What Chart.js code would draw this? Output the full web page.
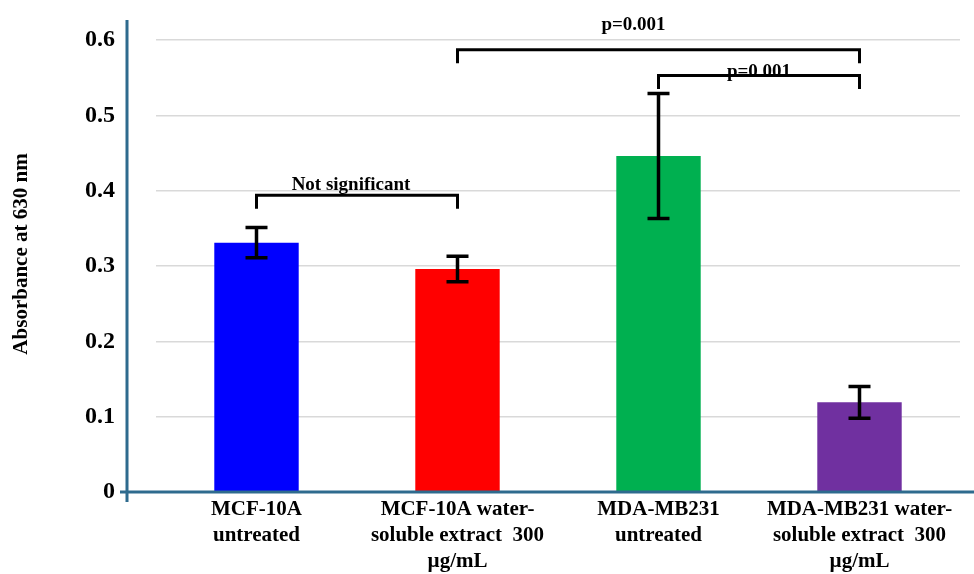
<!DOCTYPE html>
<html>
<head>
<meta charset="utf-8">
<script src="https://cdn.jsdelivr.net/npm/chart.js@4/dist/chart.umd.min.js"></script>
<style>
  html, body { margin: 0; padding: 0; background: #fff; }
  #wrap { width: 974px; height: 574px; position: relative; }
</style>
</head>
<body>
<div id="wrap"><canvas id="chart"></canvas></div>
<script>
// Absorbance bar chart with SD error bars and significance brackets

const categories = [
  ['MCF-10A', 'untreated'],
  ['MCF-10A water-', 'soluble extract  300', 'µg/mL'],
  ['MDA-MB231', 'untreated'],
  ['MDA-MB231 water-', 'soluble extract  300', 'µg/mL']
];
const absorbance = [0.331, 0.296, 0.446, 0.119];
const errorSD = [0.020, 0.017, 0.083, 0.021];
const yTicks = [0, 0.1, 0.2, 0.3, 0.4, 0.5, 0.6];
const yTitle = 'Absorbance at 630 nm';

// significance brackets: category from/to, bracket height (absorbance), label
const bracketFrom = [0, 1, 2];
const bracketTo = [1, 3, 3];
const bracketLevel = [0.394, 0.587, 0.553];
const bracketLabels = ['Not significant', 'p=0.001', 'p=0.001'];

const barColors = ['#0000FF', '#FF0000', '#00B050', '#7030A0'];
const axisColor = '#2E6B8E';
const fontFamily = "'Liberation Serif', 'Times New Roman', serif";

// label nudges (px) for the bracket texts
const labelShift = [[-6, -5], [-25, -20], [0, 2]];

const errorBars = {
  id: 'errorBars',
  afterDatasetsDraw(chart) {
    const ctx = chart.ctx;
    const x = chart.scales.x, y = chart.scales.y;
    ctx.save();
    ctx.strokeStyle = '#000';
    ctx.lineWidth = 3.5;
    absorbance.forEach((v, i) => {
      const cx = x.getPixelForValue(i);
      const top = y.getPixelForValue(v + errorSD[i]);
      const bot = y.getPixelForValue(v - errorSD[i]);
      ctx.beginPath();
      ctx.moveTo(cx, top); ctx.lineTo(cx, bot);
      ctx.moveTo(cx - 11, top); ctx.lineTo(cx + 11, top);
      ctx.moveTo(cx - 11, bot); ctx.lineTo(cx + 11, bot);
      ctx.stroke();
    });
    ctx.restore();
  }
};

const brackets = {
  id: 'brackets',
  afterDraw(chart) {
    const ctx = chart.ctx;
    const x = chart.scales.x, y = chart.scales.y;
    const drop = y.getPixelForValue(0) - y.getPixelForValue(0.018);
    ctx.save();
    ctx.strokeStyle = '#000';
    ctx.fillStyle = '#000';
    ctx.lineWidth = 3;
    ctx.font = 'bold 19px ' + fontFamily;
    ctx.textAlign = 'center';
    ctx.textBaseline = 'alphabetic';
    bracketLevel.forEach((lv, i) => {
      const x1 = x.getPixelForValue(bracketFrom[i]);
      const x2 = x.getPixelForValue(bracketTo[i]);
      const py = y.getPixelForValue(lv);
      ctx.beginPath();
      ctx.moveTo(x1, py + drop);
      ctx.lineTo(x1, py);
      ctx.lineTo(x2, py);
      ctx.lineTo(x2, py + drop);
      ctx.stroke();
      ctx.fillText(bracketLabels[i], (x1 + x2) / 2 + labelShift[i][0], py + labelShift[i][1]);
    });

    // y-axis title
    const area = chart.chartArea;
    ctx.save();
    ctx.translate(22, (area.top + area.bottom) / 2 - 12);
    ctx.rotate(-Math.PI / 2);
    ctx.textBaseline = 'middle';
    ctx.font = 'bold 21px ' + fontFamily;
    ctx.fillText(yTitle, 0, 0);
    ctx.restore();

    // axis lines, drawn a bit outside the plot area as in the original
    const zero = y.getPixelForValue(0);
    const ax = area.left - 29;
    ctx.strokeStyle = axisColor;
    ctx.lineWidth = 3;
    ctx.beginPath();
    ctx.moveTo(ax, area.top - 20);
    ctx.lineTo(ax, zero + 10);
    ctx.moveTo(ax - 7, zero);
    ctx.lineTo(chart.width, zero);
    ctx.stroke();
    ctx.restore();
  }
};

new Chart(document.getElementById('chart'), {
  type: 'bar',
  data: {
    labels: categories,
    datasets: [{
      data: absorbance,
      backgroundColor: barColors,
      borderWidth: 0,
      barPercentage: 0.42,
      categoryPercentage: 1
    }]
  },
  options: {
    responsive: true,
    maintainAspectRatio: false,
    animation: false,
    layout: { padding: { left: 0, right: 14, top: 40, bottom: 0 } },
    plugins: {
      legend: { display: false },
      tooltip: { enabled: false }
    },
    scales: {
      x: {
        grid: { display: false, drawTicks: false },
        border: { display: false },
        afterFit(scale) { scale.height = 82; },
        ticks: {
          color: '#000',
          padding: 4,
          maxRotation: 0,
          autoSkip: false,
          font: { family: fontFamily, size: 21, weight: 'bold', lineHeight: 1.25 }
        }
      },
      y: {
        min: 0,
        max: 0.6,
        afterFit(scale) {
          scale.width = 156;
          // the large tick padding should only push labels left, not down
          scale.paddingTop = 14;
          scale.paddingBottom = 0;
        },
        afterBuildTicks(scale) { scale.ticks = yTicks.map(v => ({ value: v })); },
        grid: { color: '#D9D9D9', lineWidth: 1.5, drawTicks: false },
        border: { display: false },
        ticks: {
          color: '#000',
          padding: 41,
          font: { family: fontFamily, size: 24, weight: 'bold' },
          callback: v => (v === 0 ? '0' : v.toFixed(1))
        }
      }
    }
  },
  plugins: [errorBars, brackets]
});
</script>
</body>
</html>
